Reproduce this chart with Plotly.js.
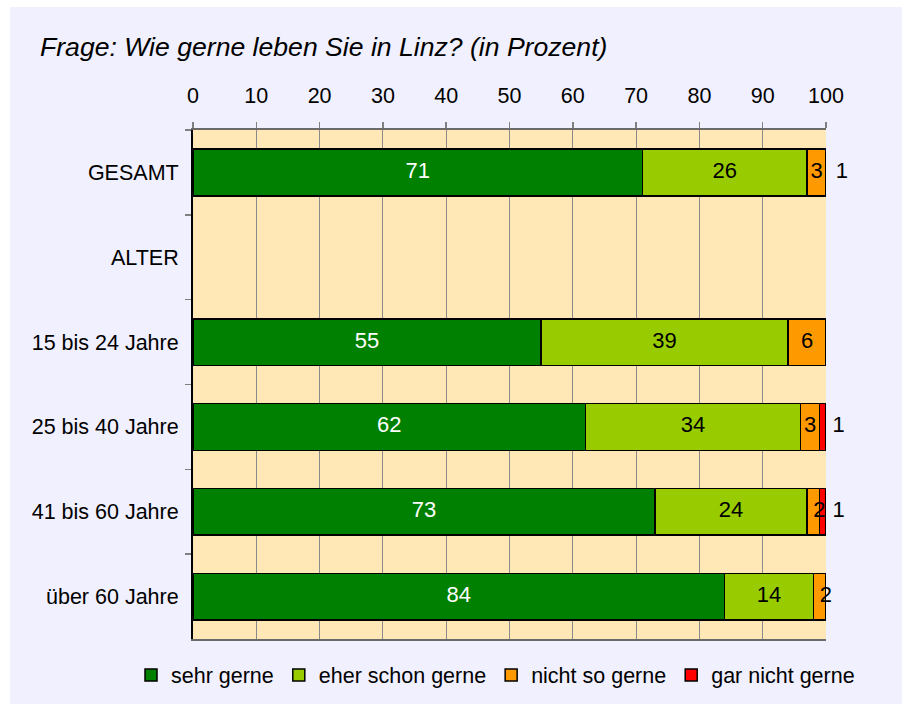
<!DOCTYPE html>
<html><head><meta charset="utf-8">
<script src="https://cdn.plot.ly/plotly-3.0.1.min.js"></script>
<style>html,body{margin:0;padding:0;background:#fff;}#chart{position:absolute;left:10px;top:7px;width:892px;height:697px;}</style>
</head><body><div id="chart"></div>
<script>
var categories = ["GESAMT", "ALTER", "15 bis 24 Jahre", "25 bis 40 Jahre", "41 bis 60 Jahre", "über 60 Jahre"];
var seriesNames = ["sehr gerne", "eher schon gerne", "nicht so gerne", "gar nicht gerne"];
var sehrGerne      = [71, null, 55, 62, 73, 84];
var eherSchonGerne = [26, null, 39, 34, 24, 14];
var nichtSoGerne   = [3,  null, 6,  3,  2,  2];
var garNichtGerne  = [1,  null, null, 1, 1, null];
var xTicks = [0, 10, 20, 30, 40, 50, 60, 70, 80, 90, 100];

var series = [sehrGerne, eherSchonGerne, nichtSoGerne, garNichtGerne];
var colors = ["#008000", "#99CC00", "#FF9900", "#FF0000"];
var textColors = ["#ffffff", "#000000", "#000000", "#000000"];
var labelOffset = [0, 0, 0, 14];   // invisible marker size used to push small labels right
var FONT = "Liberation Sans, Arial, sans-serif";
var XMAX = 100;

var traces = [];
series.forEach(function (vals, i) {
  traces.push({
    type: "bar", orientation: "h", name: seriesNames[i],
    x: vals, y: categories, width: 0.55,
    marker: {color: colors[i], line: {color: "#000", width: 1.5}},
    hoverinfo: "skip"
  });
});
// value labels, centred on each segment (small ones set to the right)
var cum = categories.map(function () { return 0; });
series.forEach(function (vals, i) {
  var xs = [], ys = [], ts = [], pos = [];
  vals.forEach(function (v, k) {
    if (v == null) return;
    var mid = cum[k] + v / 2;
    xs.push(Math.min(mid, XMAX));
    ys.push(categories[k]);
    ts.push(String(v));
    pos.push(v <= 2 ? "middle right" : "middle center");
    cum[k] += v;
  });
  traces.push({
    type: "scatter", mode: labelOffset[i] ? "markers+text" : "text",
    x: xs, y: ys, text: ts, textposition: pos,
    marker: {size: labelOffset[i] || 6, opacity: 0},
    textfont: {family: FONT, size: 22, color: textColors[i]},
    showlegend: false, hoverinfo: "skip", cliponaxis: false
  });
});

var layout = {
  width: 892, height: 697,
  paper_bgcolor: "#F0F0FF", plot_bgcolor: "#FFE8B6",
  margin: {l: 183, r: 76, t: 123, b: 65, autoexpand: false},
  barmode: "stack",
  font: {family: FONT, size: 21, color: "#000"},
  title: {text: "<i>Frage: Wie gerne leben Sie in Linz? (in Prozent)</i>",
          font: {family: FONT, size: 26.6, color: "#000"},
          x: 30 / 892, xanchor: "left", xref: "container",
          y: 1 - 40 / 697, yanchor: "middle", yref: "container"},
  xaxis: {side: "top", range: [0, XMAX], tickvals: xTicks, ticktext: xTicks.map(String),
          tickfont: {size: 21.5},
          showgrid: true, gridcolor: "#8a8a8a", gridwidth: 1,
          ticks: "outside", ticklen: 6, tickcolor: "#808080", tickwidth: 1.5,
          showline: true, linecolor: "#6a6a6a", linewidth: 2, mirror: true,
          zeroline: false, ticklabelstandoff: 10, fixedrange: true, automargin: false},
  yaxis: {type: "category", autorange: "reversed", tickson: "boundaries",
          tickfont: {size: 21.5},
          ticks: "outside", ticklen: 6, tickcolor: "#808080", tickwidth: 1.5,
          showline: true, linecolor: "#000", linewidth: 2, showgrid: false,
          ticklabelstandoff: 8, fixedrange: true, automargin: false},
  legend: {orientation: "h", xref: "paper", yref: "paper",
           x: (121 - 183) / 633, xanchor: "left", y: (632 - 668) / 509, yanchor: "middle",
           font: {family: FONT, size: 21.5}, traceorder: "normal",
           itemwidth: 30, tracegroupgap: 0, bgcolor: "rgba(0,0,0,0)"},
  showlegend: true
};
Plotly.newPlot("chart", traces, layout, {displayModeBar: false, staticPlot: true});
</script></body></html>
